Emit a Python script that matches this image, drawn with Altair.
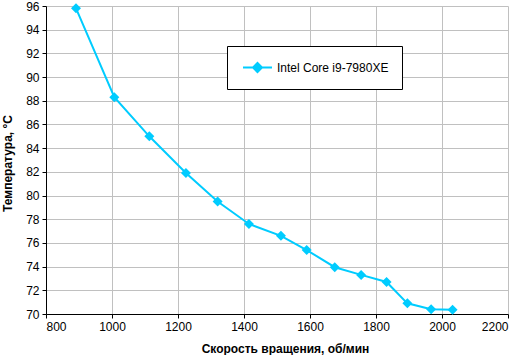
import altair as alt
import pandas as pd

rpm = [891, 1007, 1113, 1224, 1320, 1415, 1512, 1590, 1675, 1755, 1832, 1895, 1967, 2032]
temp = [95.8, 88.3, 85.0, 81.9, 79.5, 77.6, 76.6, 75.4, 73.95, 73.3, 72.7, 70.9, 70.4, 70.35]
series_name = "Intel Core i9-7980XE"
x_ticks = [800, 1000, 1200, 1400, 1600, 1800, 2000, 2200]
y_ticks = [70, 72, 74, 76, 78, 80, 82, 84, 86, 88, 90, 92, 94, 96]
x_title = "Скорость вращения, об/мин"
y_title = "Температура, °C"

df = pd.DataFrame({"rpm": rpm, "temp": temp, "series": [series_name] * len(rpm)})

CYAN = "#00CCFF"
FONT = "Liberation Sans"

color = alt.Color(
    "series:N",
    scale=alt.Scale(domain=[series_name], range=[CYAN]),
    legend=alt.Legend(
        title=None,
        orient="none",
        legendX=181,
        legendY=40,
        strokeColor="black",
        fillColor="white",
        padding=13,
        symbolType="M-2,0L2,0M0,-0.62L0.62,0L0,0.62L-0.62,0Z",
        symbolSize=210,
        symbolStrokeWidth=2,
        symbolFillColor=CYAN,
        symbolStrokeColor=CYAN,
        symbolOffset=9,
        labelFont=FONT,
        labelFontSize=12,
        labelColor="black",
        labelOffset=11,
    ),
)

x = alt.X(
    "rpm:Q",
    scale=alt.Scale(domain=[800, 2200], nice=False, zero=False),
    axis=alt.Axis(values=x_ticks, format="d", title=x_title,
                  titleX=239, titleY=34, titleBaseline="middle"),
)
y = alt.Y(
    "temp:Q",
    scale=alt.Scale(domain=[70, 96], nice=False, zero=False),
    axis=alt.Axis(values=y_ticks, format="d", title=y_title,
                  titleX=-39, titleY=157, titleAngle=270, titleBaseline="middle"),
)

base = alt.Chart(df).encode(x=x, y=y, color=color)
line = base.mark_line(strokeWidth=2)
pts = base.mark_point(shape="diamond", filled=True, size=100, opacity=1)

chart = (
    alt.layer(line, pts)
    .properties(
        width=462,
        height=308,
        autosize=alt.AutoSizeParams(type="none"),
        padding={"left": 46, "top": 6, "right": 13, "bottom": 41},
        background="white",
    )
    .configure_view(strokeOpacity=0)
    .configure_axis(
        gridColor="#C0C0C0",
        gridWidth=1,
        domainColor="black",
        domainWidth=1,
        tickColor="black",
        tickSize=4,
        labelFont=FONT,
        labelFontSize=12,
        labelColor="black",
        labelPadding=3,
        titleFont=FONT,
        titleFontSize=12,
        titleFontWeight="bold",
        titleColor="black",
    )
)

chart.save("out.html", embed_options={"renderer": "svg", "actions": False})
